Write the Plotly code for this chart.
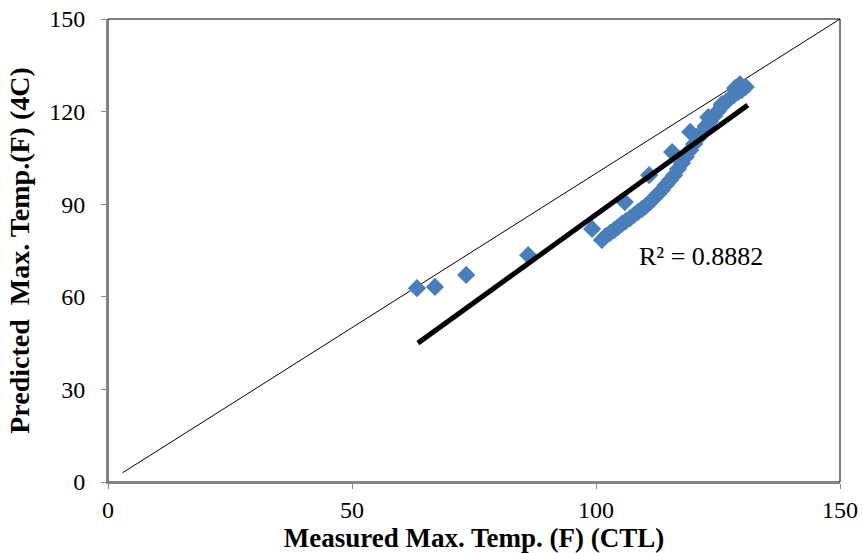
import plotly.graph_objects as go

# Scatter data (Measured CTL vs Predicted 4C)
meas_x = [63.3, 67.0, 73.4, 86.1, 99.2,
          105.9, 110.9, 115.6, 119.3, 123.0, 125.8,
          101.2, 102.0, 102.9, 103.7, 104.5, 105.3, 106.1, 107.0, 107.8, 108.6,
          109.4, 110.2, 111.1, 111.9, 112.7, 113.5, 114.3, 115.2, 116.0, 116.8,
          117.6, 118.4, 119.3, 120.1, 120.9, 121.7, 122.5, 123.4, 124.2, 125.0,
          125.8, 126.6, 127.5, 128.3, 129.1, 129.9, 130.7, 129.5, 128.5]
pred_y = [62.8, 63.2, 67.1, 73.5, 82.0,
          90.7, 99.4, 106.9, 113.4, 118.2, 122.4,
          78.4, 79.7, 80.7, 81.6, 82.6, 83.6, 84.5, 85.5, 86.5, 87.5,
          88.4, 89.4, 90.7, 92.0, 93.3, 94.6, 96.2, 97.8, 99.4, 101.4,
          103.3, 105.3, 107.5, 109.5, 111.4, 113.4, 115.3, 116.9, 118.6, 120.2,
          121.8, 123.1, 124.4, 125.4, 126.3, 127.0, 128.0, 128.9, 127.6]

# Linear trend line endpoints
trend_x = [63.5, 131.1]
trend_y = [45.0, 122.1]

# 1:1 line
ref_x = [3, 150]
ref_y = [3, 150]

x_ticks = [0, 50, 100, 150]
y_ticks = [0, 30, 60, 90, 120, 150]

r2_text = "R² = 0.8882"

FONT = "Liberation Serif, Times New Roman, serif"
AXIS_GRAY = "#868686"

fig = go.Figure()
fig.add_trace(go.Scatter(x=ref_x, y=ref_y, mode="lines",
                         line=dict(color="black", width=1), showlegend=False, hoverinfo="skip"))
fig.add_trace(go.Scatter(x=meas_x, y=pred_y, mode="markers",
                         marker=dict(symbol="diamond", size=14, color="#4a7ebb",
                                     line=dict(width=0)),
                         showlegend=False))
fig.add_trace(go.Scatter(x=trend_x, y=trend_y, mode="lines",
                         line=dict(color="black", width=5), showlegend=False))

fig.add_annotation(x=121.5, y=73.2, text=r2_text, showarrow=False,
                   font=dict(family=FONT, size=26, color="black"))

fig.add_shape(type="rect", xref="paper", yref="paper", x0=0, y0=0, x1=1, y1=1,
              line=dict(color="black", width=1), layer="below")

fig.update_layout(
    width=863, height=553,
    margin=dict(l=108, r=23, t=19, b=71),
    plot_bgcolor="white", paper_bgcolor="white",
    font=dict(family=FONT, size=24, color="black"),
    xaxis=dict(range=[0, 150], tickvals=x_ticks, showgrid=False, zeroline=False,
               showline=True, linecolor=AXIS_GRAY, linewidth=2, automargin=False,
               ticks="outside", ticklen=5, tickcolor=AXIS_GRAY, tickwidth=1,
               tickfont=dict(size=24), ticklabeloverflow="allow",
               title=dict(text="<b>Measured Max. Temp. (F) (CTL)</b>", standoff=0,
                          font=dict(family=FONT, size=27))),
    yaxis=dict(range=[0, 150], tickvals=y_ticks, showgrid=False, zeroline=False,
               showline=True, linecolor=AXIS_GRAY, linewidth=2, automargin=False,
               ticks="outside", ticklen=5, tickcolor=AXIS_GRAY, tickwidth=1,
               tickfont=dict(size=24), ticklabelstandoff=11, ticklabeloverflow="allow",
               title=dict(text="<b>Predicted  Max. Temp.(F) (4C)</b>", standoff=11,
                          font=dict(family=FONT, size=28))),
)

# remove the default 8px page margin so the figure fills the window exactly
fig.write_html("out.html", config={"displayModeBar": False},
               post_script="document.body.style.margin='0';")
